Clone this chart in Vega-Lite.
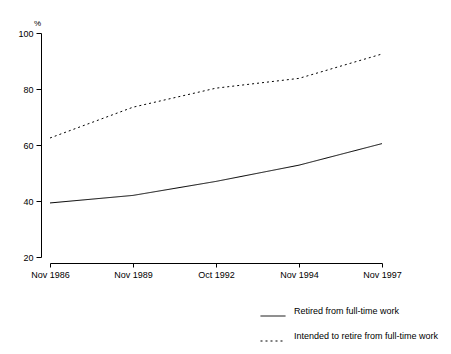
{
  "$schema": "https://vega.github.io/schema/vega-lite/v6.json",
  "width": 332,
  "height": 224,
  "autosize": "none",
  "padding": {"left": 50, "top": 33, "right": 69, "bottom": 97},
  "background": "white",
  "config": {
    "view": {"stroke": null},
    "font": "Liberation Sans",
    "axis": {"labelFont": "Liberation Sans", "labelFontSize": 9, "labelColor": "black", "domainColor": "black", "tickColor": "black", "grid": false, "domainWidth": 1, "tickWidth": 1},
    "legend": {"labelFont": "Liberation Sans", "labelFontSize": 9, "labelColor": "black"}
  },
  "data": {"values": [
    {"date": "Nov 1986", "series": "Retired from full-time work", "value": 39.3},
    {"date": "Nov 1989", "series": "Retired from full-time work", "value": 42},
    {"date": "Oct 1992", "series": "Retired from full-time work", "value": 47},
    {"date": "Nov 1994", "series": "Retired from full-time work", "value": 52.8},
    {"date": "Nov 1997", "series": "Retired from full-time work", "value": 60.5},
    {"date": "Nov 1986", "series": "Intended to retire from full-time work", "value": 62.5},
    {"date": "Nov 1989", "series": "Intended to retire from full-time work", "value": 73.5},
    {"date": "Oct 1992", "series": "Intended to retire from full-time work", "value": 80.3},
    {"date": "Nov 1994", "series": "Intended to retire from full-time work", "value": 83.8},
    {"date": "Nov 1997", "series": "Intended to retire from full-time work", "value": 92.5}
  ]},
  "mark": {"type": "line", "color": "black", "strokeWidth": 1, "interpolate": "linear"},
  "encoding": {
    "x": {"field": "date", "type": "ordinal", "sort": null,
      "scale": {"type": "point", "padding": 0},
      "axis": {"title": null, "labelAngle": 0, "offset": 6, "tickSize": 4, "labelPadding": 3}},
    "y": {"field": "value", "type": "quantitative",
      "scale": {"domain": [20, 100], "nice": false, "zero": false},
      "axis": {"values": [20, 40, 60, 80, 100], "offset": 9, "tickSize": 5, "labelPadding": 3,
        "title": "%", "titleAngle": 0, "titleFontSize": 8, "titleFontWeight": "normal", "titleFont": "Liberation Sans",
        "titleX": -4, "titleY": -6, "titleAlign": "center", "titleBaseline": "bottom"}},
    "strokeDash": {"field": "series", "type": "nominal",
      "scale": {"domain": ["Retired from full-time work", "Intended to retire from full-time work"], "range": [[1, 0], [2, 3]]},
      "legend": {"title": null, "orient": "none", "legendX": 210, "legendY": 270,
        "symbolType": "stroke", "symbolSize": 625, "symbolStrokeColor": "black", "symbolStrokeWidth": 1,
        "labelBaseline": "bottom", "labelOffset": 8, "rowPadding": 10, "labelLimit": 300}}
  }
}
